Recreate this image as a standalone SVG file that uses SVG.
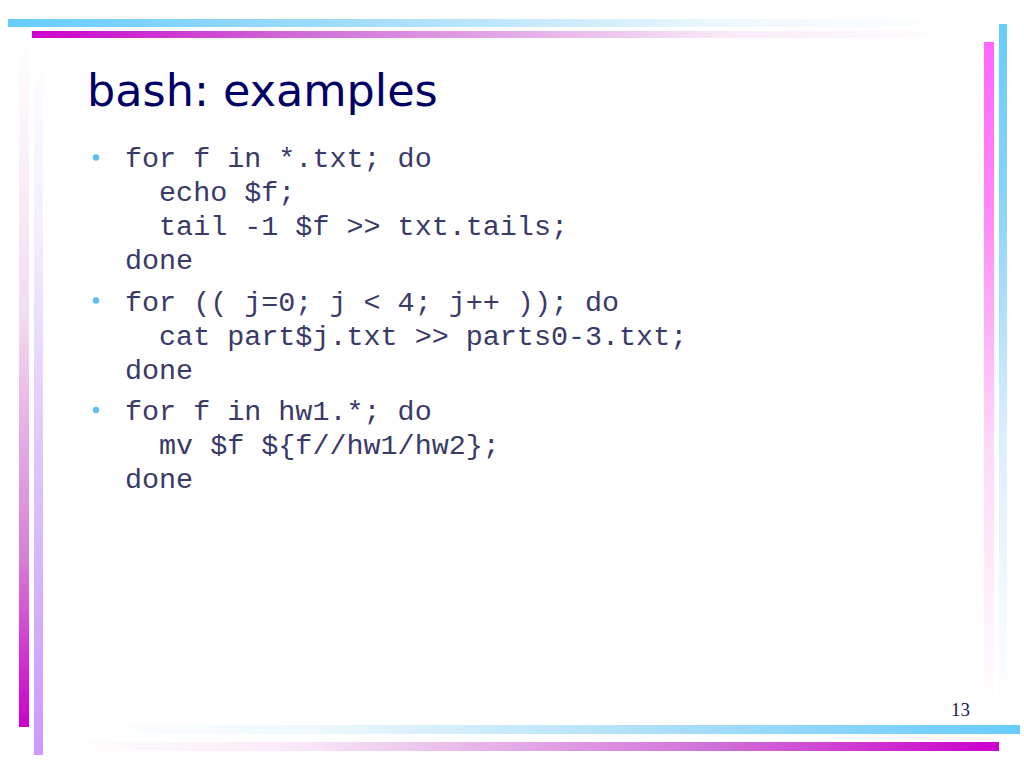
<svg xmlns="http://www.w3.org/2000/svg" width="1024" height="768" viewBox="0 0 1024 768">
<defs>
<linearGradient id="gTopCyan" x1="0" y1="0" x2="1" y2="0">
<stop offset="0" stop-color="#66ccff"/>
<stop offset="0.35" stop-color="#a0dcfa"/>
<stop offset="0.75" stop-color="#eef8fe"/>
<stop offset="1" stop-color="#ffffff"/>
</linearGradient>
<linearGradient id="gTopMag" x1="0" y1="0" x2="1" y2="0">
<stop offset="0" stop-color="#cc00cc"/>
<stop offset="0.3" stop-color="#d070d8"/>
<stop offset="0.75" stop-color="#faeaf8"/>
<stop offset="1" stop-color="#ffffff"/>
</linearGradient>
<linearGradient id="gRightMag" x1="0" y1="0" x2="0" y2="1">
<stop offset="0" stop-color="#ff66ff"/>
<stop offset="0.25" stop-color="#ff88f8"/>
<stop offset="0.6" stop-color="#ffd8f8"/>
<stop offset="1" stop-color="#ffffff"/>
</linearGradient>
<linearGradient id="gRightCyan" x1="0" y1="0" x2="0" y2="1">
<stop offset="0" stop-color="#66ccff"/>
<stop offset="0.25" stop-color="#88d4f8"/>
<stop offset="0.6" stop-color="#dceffc"/>
<stop offset="1" stop-color="#ffffff"/>
</linearGradient>
<linearGradient id="gLeftMag" x1="0" y1="1" x2="0" y2="0">
<stop offset="0" stop-color="#cc00cc"/>
<stop offset="0.25" stop-color="#d880d6"/>
<stop offset="0.6" stop-color="#f3dcf0"/>
<stop offset="1" stop-color="#ffffff"/>
</linearGradient>
<linearGradient id="gLeftLav" x1="0" y1="1" x2="0" y2="0">
<stop offset="0" stop-color="#cc99ff"/>
<stop offset="0.4" stop-color="#dcc4fc"/>
<stop offset="0.75" stop-color="#f4eefe"/>
<stop offset="1" stop-color="#ffffff"/>
</linearGradient>
<linearGradient id="gBotCyan" x1="1" y1="0" x2="0" y2="0">
<stop offset="0" stop-color="#66ccff"/>
<stop offset="0.35" stop-color="#a6dcf8"/>
<stop offset="0.75" stop-color="#eef8fe"/>
<stop offset="1" stop-color="#ffffff"/>
</linearGradient>
<linearGradient id="gBotMag" x1="1" y1="0" x2="0" y2="0">
<stop offset="0" stop-color="#cc00cc"/>
<stop offset="0.3" stop-color="#d070d8"/>
<stop offset="0.75" stop-color="#faeaf8"/>
<stop offset="1" stop-color="#ffffff"/>
</linearGradient>
<style>
.title{font-family:"DejaVu Sans",Verdana,sans-serif;font-size:44.5px;fill:#000066;}
.code{font-family:"Liberation Mono","Courier New",monospace;font-size:28.4px;fill:#3a3a68;white-space:pre;}
.bullet{fill:#5cbff0;}
.pnum{font-family:"Liberation Serif","Times New Roman",serif;font-size:19px;fill:#1a1a4d;}
</style>
</defs>
<rect width="1024" height="768" fill="#ffffff"/>
<g id="frame">
<rect x="8" y="19" width="960" height="8" fill="url(#gTopCyan)"/>
<rect x="32" y="31" width="930" height="7" fill="url(#gTopMag)"/>
<rect x="984" y="42" width="10" height="670" fill="url(#gRightMag)"/>
<rect x="999" y="24" width="8" height="690" fill="url(#gRightCyan)"/>
<rect x="19" y="40" width="10" height="687" fill="url(#gLeftMag)"/>
<rect x="34" y="50" width="9" height="705" fill="url(#gLeftLav)"/>
<rect x="80" y="725" width="940" height="9" fill="url(#gBotCyan)"/>
<rect x="55" y="742" width="944" height="9" fill="url(#gBotMag)"/>
</g>
<g id="title">
<text class="title" x="87" y="106">bash: examples</text>
</g>
<g id="bullet1">
<circle class="bullet" cx="96" cy="157.5" r="3.2"/>
<text class="code" x="125" y="167">for f in *.txt; do</text>
<text class="code" x="125" y="201">  echo $f;</text>
<text class="code" x="125" y="235">  tail -1 $f &gt;&gt; txt.tails;</text>
<text class="code" x="125" y="269">done</text>
</g>
<g id="bullet2">
<circle class="bullet" cx="96" cy="300.5" r="3.2"/>
<text class="code" x="125" y="311">for (( j=0; j &lt; 4; j++ )); do</text>
<text class="code" x="125" y="345">  cat part$j.txt &gt;&gt; parts0-3.txt;</text>
<text class="code" x="125" y="379">done</text>
</g>
<g id="bullet3">
<circle class="bullet" cx="96" cy="410" r="3.2"/>
<text class="code" x="125" y="420">for f in hw1.*; do</text>
<text class="code" x="125" y="454">  mv $f ${f//hw1/hw2};</text>
<text class="code" x="125" y="488">done</text>
</g>
<g id="pagenum">
<text class="pnum" x="951" y="716">13</text>
</g>
</svg>
